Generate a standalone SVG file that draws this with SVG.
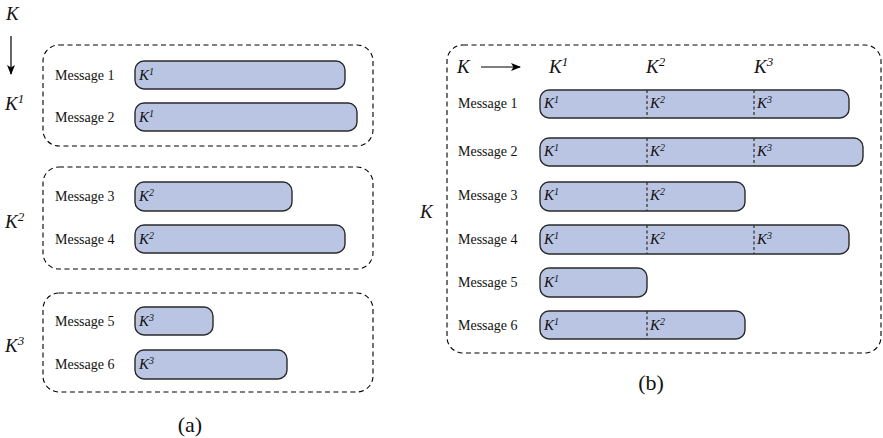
<svg xmlns="http://www.w3.org/2000/svg" width="883" height="438" viewBox="0 0 883 438" font-family="'Liberation Serif','DejaVu Serif',serif">
<defs>
<marker id="ah" markerWidth="10" markerHeight="8" refX="9" refY="4" orient="auto" markerUnits="userSpaceOnUse">
<path d="M0,0 L10,4 L0,8 L2.5,4 Z" fill="#000"/>
</marker>
</defs>
<style>
text{font-family:'Liberation Serif','DejaVu Serif',serif}
.grp{fill:none;stroke:#000;stroke-width:1.1;stroke-dasharray:5 3.5}
.bar{fill:#bac5e3;stroke:#2a2a2a;stroke-width:1.4}
.div{stroke:#2a2a2a;stroke-width:1.2;stroke-dasharray:3 2.5}
.msg{font-size:14px;fill:#111}
.k{font-style:italic;font-size:15px;fill:#111}
.kb{font-style:italic;font-size:19px;fill:#111}
.sup{font-size:10px}
.supb{font-size:13px}
.cap{font-size:22px;fill:#111}
</style>
<rect width="883" height="438" fill="#fff"/>

<g id="a-axis">
<text class="kb" x="6" y="20">K</text>
<text class="kb" x="5" y="110">K<tspan class="supb" dy="-7">1</tspan></text>
<text class="kb" x="5" y="228">K<tspan class="supb" dy="-7">2</tspan></text>
<text class="kb" x="5" y="352">K<tspan class="supb" dy="-7">3</tspan></text>
</g>
<g id="connectors">
<line x1="11" y1="36" x2="11" y2="74" stroke="#000" stroke-width="1.2" marker-end="url(#ah)"/>
<line x1="481" y1="67" x2="520" y2="67" stroke="#000" stroke-width="1.2" marker-end="url(#ah)"/>
</g>

<g id="a-group1">
<rect class="grp" x="43" y="45" width="330" height="101" rx="16"/>
<g id="a-msg1"><text class="msg" x="55" y="80">Message 1</text><rect class="bar" x="135" y="61" width="210" height="28" rx="9"/><text class="k" x="139" y="80">K<tspan class="sup" dy="-5">1</tspan></text></g>
<g id="a-msg2"><text class="msg" x="55" y="122">Message 2</text><rect class="bar" x="135" y="103" width="222" height="28" rx="9"/><text class="k" x="139" y="122">K<tspan class="sup" dy="-5">1</tspan></text></g>
</g>
<g id="a-group2">
<rect class="grp" x="43" y="167" width="330" height="102" rx="16"/>
<g id="a-msg3"><text class="msg" x="55" y="201">Message 3</text><rect class="bar" x="135" y="182" width="157" height="29" rx="9"/><text class="k" x="139" y="201">K<tspan class="sup" dy="-5">2</tspan></text></g>
<g id="a-msg4"><text class="msg" x="55" y="244">Message 4</text><rect class="bar" x="135" y="225" width="210" height="28" rx="9"/><text class="k" x="139" y="244">K<tspan class="sup" dy="-5">2</tspan></text></g>
</g>
<g id="a-group3">
<rect class="grp" x="43" y="293" width="330" height="99" rx="16"/>
<g id="a-msg5"><text class="msg" x="55" y="326">Message 5</text><rect class="bar" x="135" y="307" width="78" height="28" rx="9"/><text class="k" x="139" y="326">K<tspan class="sup" dy="-5">3</tspan></text></g>
<g id="a-msg6"><text class="msg" x="55" y="369">Message 6</text><rect class="bar" x="135" y="350" width="152" height="29" rx="9"/><text class="k" x="139" y="369">K<tspan class="sup" dy="-5">3</tspan></text></g>
</g>
<text class="cap" x="190" y="432" text-anchor="middle">(a)</text>

<g id="b-group">
<rect class="grp" x="447" y="45" width="434" height="308" rx="16"/>
<text class="kb" x="420" y="218">K</text>
<text class="kb" x="457" y="73">K</text>
<text class="kb" x="549" y="73">K<tspan class="supb" dy="-7">1</tspan></text>
<text class="kb" x="646" y="73">K<tspan class="supb" dy="-7">2</tspan></text>
<text class="kb" x="754" y="73">K<tspan class="supb" dy="-7">3</tspan></text>

<g id="b-msg1"><text class="msg" x="458" y="108">Message 1</text><rect class="bar" x="540" y="90" width="309" height="28" rx="9"/>
<line class="div" x1="647" y1="90" x2="647" y2="118"/><line class="div" x1="754" y1="90" x2="754" y2="118"/>
<text class="k" x="544" y="108">K<tspan class="sup" dy="-5">1</tspan></text><text class="k" x="650" y="108">K<tspan class="sup" dy="-5">2</tspan></text><text class="k" x="757" y="108">K<tspan class="sup" dy="-5">3</tspan></text></g>

<g id="b-msg2"><text class="msg" x="458" y="156">Message 2</text><rect class="bar" x="540" y="138" width="323" height="28" rx="9"/>
<line class="div" x1="647" y1="138" x2="647" y2="166"/><line class="div" x1="754" y1="138" x2="754" y2="166"/>
<text class="k" x="544" y="156">K<tspan class="sup" dy="-5">1</tspan></text><text class="k" x="650" y="156">K<tspan class="sup" dy="-5">2</tspan></text><text class="k" x="757" y="156">K<tspan class="sup" dy="-5">3</tspan></text></g>

<g id="b-msg3"><text class="msg" x="458" y="200">Message 3</text><rect class="bar" x="540" y="182" width="205" height="29" rx="9"/>
<line class="div" x1="647" y1="182" x2="647" y2="211"/>
<text class="k" x="544" y="200">K<tspan class="sup" dy="-5">1</tspan></text><text class="k" x="650" y="200">K<tspan class="sup" dy="-5">2</tspan></text></g>

<g id="b-msg4"><text class="msg" x="458" y="244">Message 4</text><rect class="bar" x="540" y="225" width="309" height="29" rx="9"/>
<line class="div" x1="647" y1="225" x2="647" y2="254"/><line class="div" x1="754" y1="225" x2="754" y2="254"/>
<text class="k" x="544" y="244">K<tspan class="sup" dy="-5">1</tspan></text><text class="k" x="650" y="244">K<tspan class="sup" dy="-5">2</tspan></text><text class="k" x="757" y="244">K<tspan class="sup" dy="-5">3</tspan></text></g>

<g id="b-msg5"><text class="msg" x="458" y="287">Message 5</text><rect class="bar" x="540" y="268" width="107" height="29" rx="9"/>
<text class="k" x="544" y="287">K<tspan class="sup" dy="-5">1</tspan></text></g>

<g id="b-msg6"><text class="msg" x="458" y="330">Message 6</text><rect class="bar" x="540" y="311" width="205" height="28" rx="9"/>
<line class="div" x1="647" y1="311" x2="647" y2="339"/>
<text class="k" x="544" y="330">K<tspan class="sup" dy="-5">1</tspan></text><text class="k" x="650" y="330">K<tspan class="sup" dy="-5">2</tspan></text></g>
</g>
<text class="cap" x="651" y="390" text-anchor="middle">(b)</text>
</svg>
